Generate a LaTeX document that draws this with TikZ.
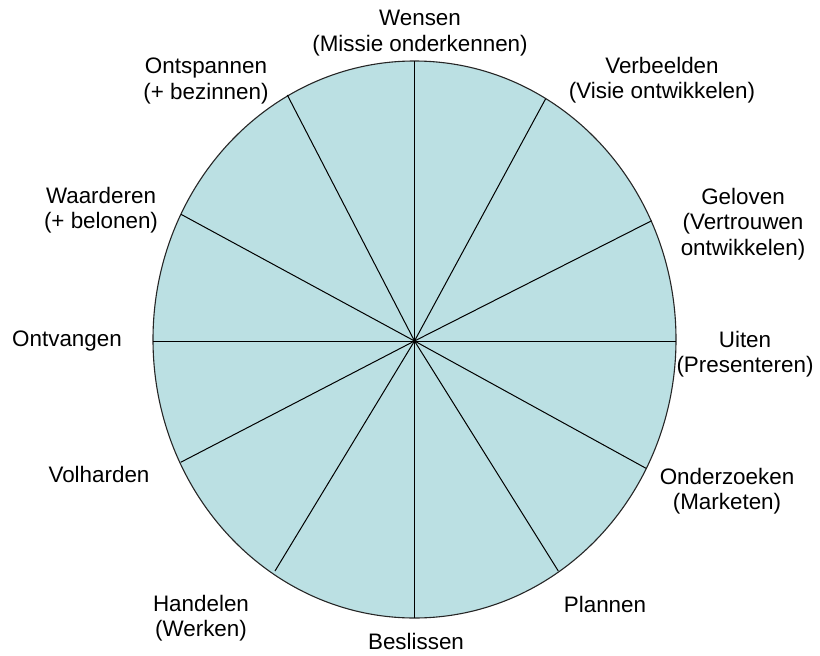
\documentclass[tikz,border=0pt]{standalone}
\usepackage{fontspec}
\setmainfont{Liberation Sans}
\definecolor{wheelfill}{HTML}{BBE0E3}
\begin{document}
\begin{tikzpicture}[x=1pt,y=-1pt,
  lbl/.style={align=center,font=\fontsize{22.4}{25.5}\selectfont,inner sep=0pt},
  spoke/.style={draw=black,line width=1pt}]
\useasboundingbox (0,0) rectangle (820,656);
\coordinate (c) at (414.5,341);
\draw[fill=wheelfill,draw=black!85,line width=1.1pt] (414.5,339.5) ellipse [x radius=261.5,y radius=278.5];
\coordinate (p1) at (414.5,61);
\coordinate (p2) at (545.5,99);
\coordinate (p3) at (651.7,220.7);
\coordinate (p4) at (676,341);
\coordinate (p5) at (646,468.3);
\coordinate (p6) at (558.3,571);
\coordinate (p7) at (414.5,618);
\coordinate (p8) at (275,571);
\coordinate (p9) at (180.7,462.3);
\coordinate (p10) at (153,341);
\coordinate (p11) at (181,214.3);
\coordinate (p12) at (287.3,95);
\foreach \i in {1,...,12} {\draw[spoke] (c) -- (p\i);}
\node[lbl] (l1) at (420,33) {Wensen\\(Missie onderkennen)};
\node[lbl] (l2) at (662,80) {Verbeelden\\(Visie ontwikkelen)};
\node[lbl] (l3) at (743,224) {Geloven\\(Vertrouwen\\ontwikkelen)};
\node[lbl] (l4) at (745,354) {Uiten\\(Presenteren)};
\node[lbl] (l5) at (727,491) {Onderzoeken\\(Marketen)};
\node[lbl] (l6) at (605,604) {Plannen};
\node[lbl] (l7) at (416,641) {Beslissen};
\node[lbl] (l8) at (201,618) {Handelen\\(Werken)};
\node[lbl] (l9) at (99,474) {Volharden};
\node[lbl] (l10) at (67,341) {Ontvangen};
\node[lbl] (l11) at (101,210) {Waarderen\\(+ belonen)};
\node[lbl] (l12) at (206,81) {Ontspannen\\(+ bezinnen)};
\end{tikzpicture}
\end{document}
